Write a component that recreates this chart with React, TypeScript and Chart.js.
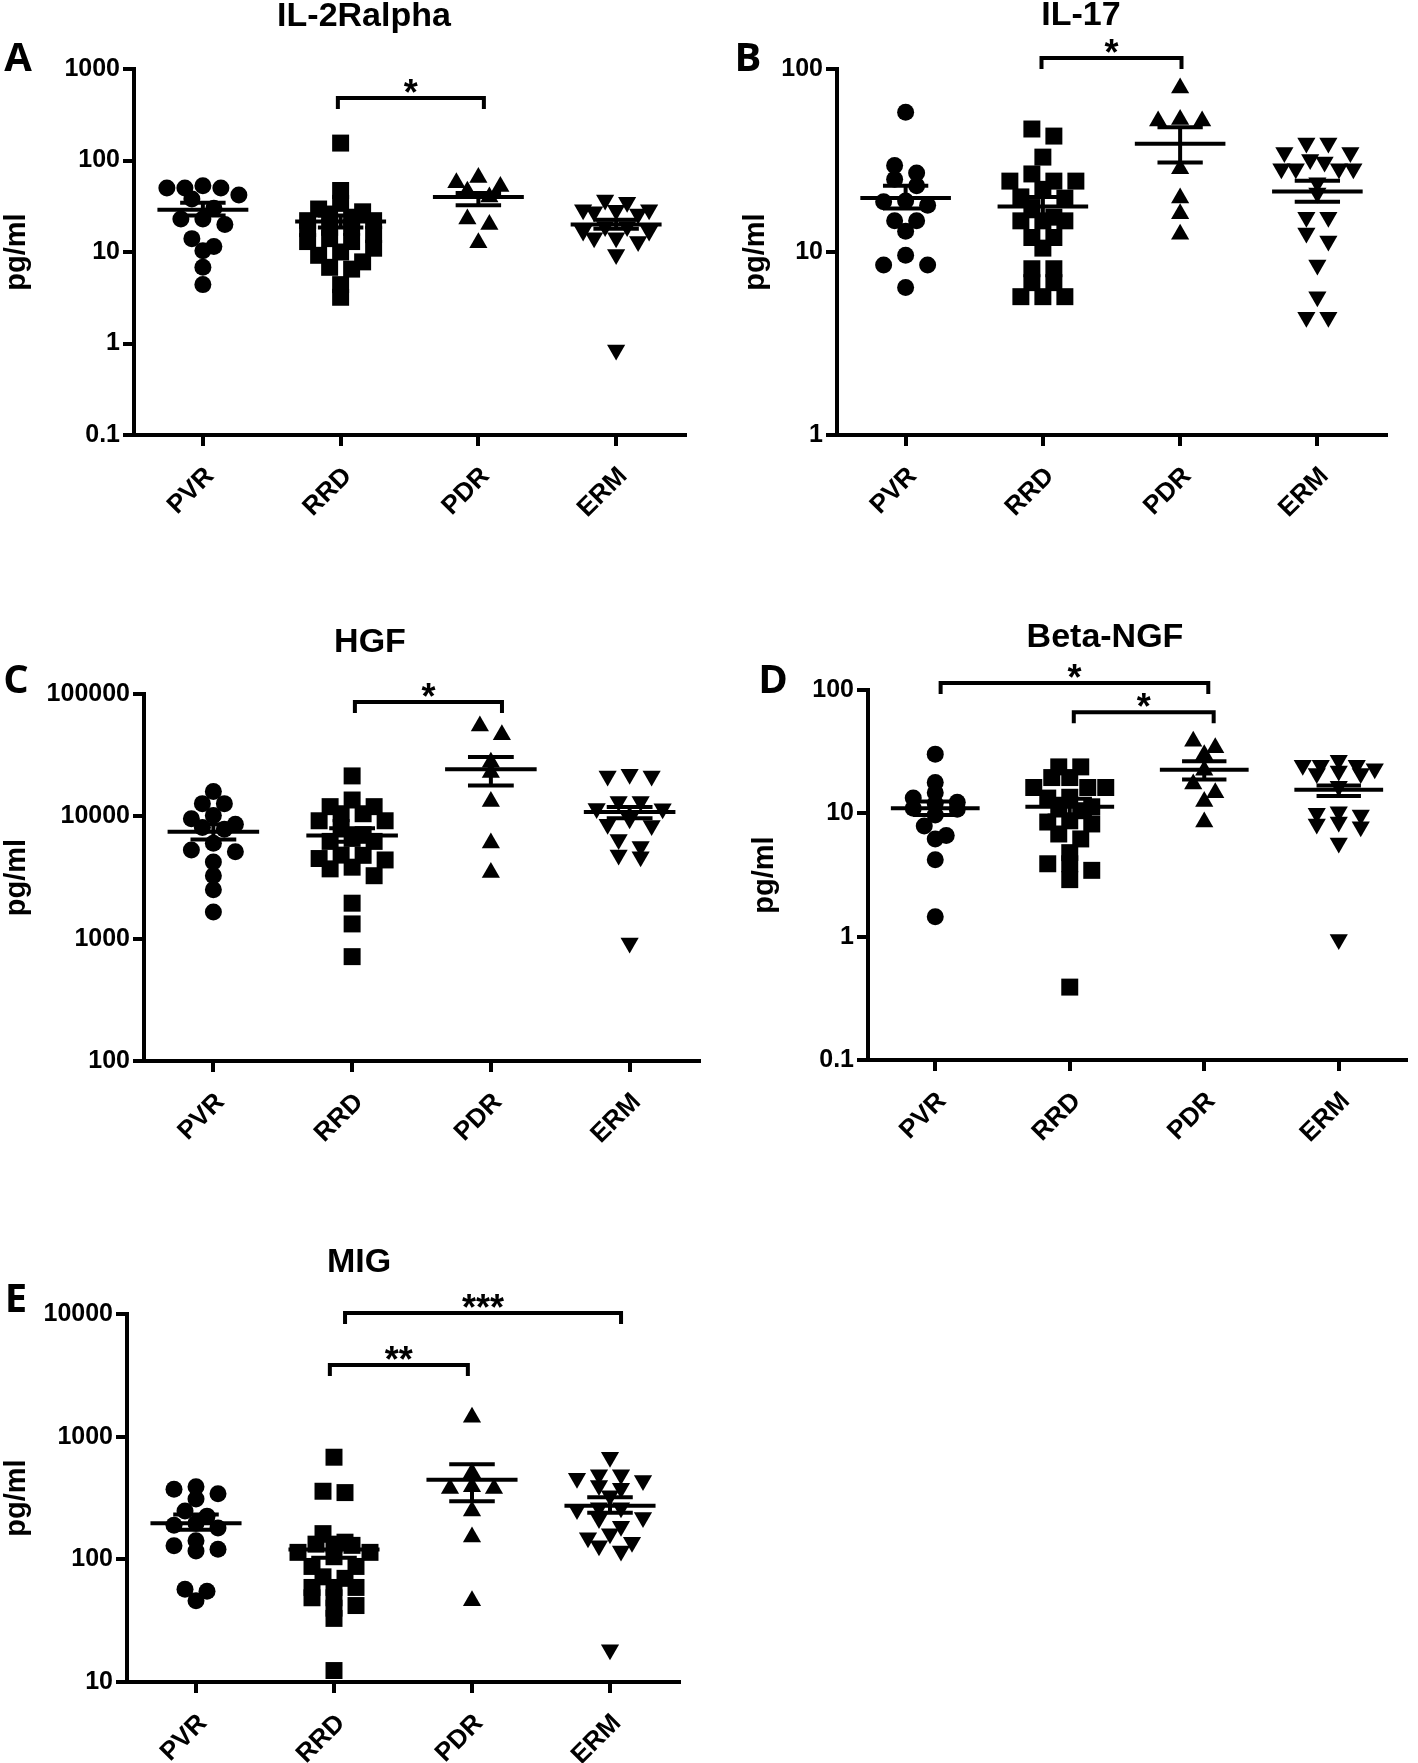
import React, { useEffect, useRef } from 'react';
import { Chart, registerables } from 'chart.js';

Chart.register(...registerables);
Chart.defaults.font.family = "'Liberation Sans', Arial, sans-serif";
Chart.defaults.color = '#000';

const CATEGORIES = ['PVR', 'RRD', 'PDR', 'ERM'];

// ---------- A: IL-2Ralpha ----------
const IL2RA_PVR = [53, 50, 50, 50, 42, 38, 30, 23, 23, 20, 14, 11.5, 10.3, 6.8, 4.4];
const IL2RA_RRD = [155, 47, 34, 29.5, 27.5, 26, 24, 22, 22, 18.6, 18.6, 18, 15.5, 14, 13, 13, 11, 10, 9.2, 7.8, 6.8, 6.5, 4.4, 3.2];
const IL2RA_PDR = [65, 57, 52, 46, 40, 23, 20, 12.6];
const IL2RA_ERM = [37, 35, 29, 29, 28.6, 27.6, 26, 19, 19, 17, 17, 14.3, 14.3, 13, 9.4, 0.85];
const IL2RA_MEAN = [29, 21.5, 40, 20];
const IL2RA_SEM_LOW = [25, 18.5, 32.5, 18];
const IL2RA_SEM_HIGH = [34.5, 25, 44, 22.5];
const IL2RA_TICKS = [0.1, 1, 10, 100, 1000];
const IL2RA_TICK_LABELS = ['0.1', '1', '10', '100', '1000'];
const IL2RA_BRACKETS = [{ from: 0.98, to: 2.04, level: 482, label: '*' }];

// ---------- B: IL-17 ----------
const IL17_PVR = [58, 29.7, 27, 25, 23, 19, 18.8, 18, 14.8, 14.8, 13, 9.6, 8.5, 8.5, 6.4];
const IL17_RRD = [47, 43, 33, 26.7, 24.4, 24.4, 24.4, 22, 20, 19.7, 17.5, 15.5, 14.8, 14.8, 14.8, 12, 12, 10.5, 8.1, 8.1, 6.8, 6.8, 5.7, 5.7, 5.7];
const IL17_PDR = [78.8, 53, 52, 52, 28.5, 19.7, 16.2, 12.5];
const IL17_ERM = [39.4, 39.4, 35, 35, 32, 31, 28.5, 28.5, 28.5, 28.5, 23.9, 21, 15.5, 15.5, 12.7, 11.5, 8.5, 5.7, 4.4, 4.4];
const IL17_MEAN = [19.7, 17.7, 39, 21.4];
const IL17_SEM_LOW = [17.3, 15.7, 30.8, 18.8];
const IL17_SEM_HIGH = [23, 20, 48, 24.5];
const IL17_TICKS = [1, 10, 100];
const IL17_TICK_LABELS = ['1', '10', '100'];
const IL17_BRACKETS = [{ from: 0.99, to: 2.01, level: 115, label: '*' }];

// ---------- C: HGF ----------
const HGF_PVR = [15960, 12700, 12700, 10150, 9560, 8630, 8100, 7830, 6030, 5310, 5130, 4240, 3270, 2510, 1650];
const HGF_RRD = [21400, 13600, 12000, 12000, 10500, 10500, 9200, 9200, 8100, 7080, 6600, 6240, 6240, 4820, 4800, 4520, 4400, 3840, 3720, 3270, 1950, 1320, 713];
const HGF_PDR = [54700, 46500, 27700, 22800, 13200, 6040, 3480];
const HGF_ERM = [22100, 21400, 21400, 13200, 13200, 11600, 11560, 9560, 8630, 8400, 6460, 5660, 4820, 4680, 923];
const HGF_MEAN = [7480, 6970, 24300, 10830];
const HGF_SEM_LOW = [6460, 6200, 17900, 9640];
const HGF_SEM_HIGH = [8630, 8000, 30600, 11940];
const HGF_TICKS = [100, 1000, 10000, 100000];
const HGF_TICK_LABELS = ['100', '1000', '10000', '100000'];
const HGF_BRACKETS = [{ from: 1.02, to: 2.08, level: 86000, label: '*' }];

// ---------- D: Beta-NGF ----------
const NGF_PVR = [30.2, 17.8, 14.7, 13.3, 12.3, 12, 11, 10.8, 9.7, 7.9, 6.6, 6.2, 4.2, 1.45];
const NGF_RRD = [23.8, 23.8, 19.5, 19.5, 16.2, 16.2, 16.2, 13.5, 13.3, 11.3, 11, 10.5, 8.7, 8.5, 8.2, 6.8, 6.2, 4.8, 3.9, 3.9, 3.45, 2.9, 0.39];
const NGF_PDR = [38.5, 34, 29.8, 22.4, 17.3, 14.7, 12.5, 8.5];
const NGF_ERM = [27, 24.5, 24.5, 24.5, 23, 22, 21, 21, 16.6, 10.3, 10, 9.7, 8.5, 8.2, 7.8, 5.75, 0.95];
const NGF_MEAN = [11, 11.3, 22.6, 15.5];
const NGF_SEM_LOW = [9.7, 9.6, 18.8, 13.8];
const NGF_SEM_HIGH = [12.5, 13.1, 26.5, 16.8];
const NGF_TICKS = [0.1, 1, 10, 100];
const NGF_TICK_LABELS = ['0.1', '1', '10', '100'];
const NGF_BRACKETS = [
  { from: 0.04, to: 2.03, level: 114, label: '*' },
  { from: 1.03, to: 2.07, level: 66, label: '*' },
];

// ---------- E: MIG ----------
const MIG_PVR = [391, 372, 343, 311, 248, 225, 197, 190, 180, 142, 129, 121, 117, 57, 55, 46];
const MIG_RRD = [680, 359, 350, 162, 138, 133, 133, 130, 114, 114, 105, 87.5, 87.5, 72, 70, 59, 59, 59, 48.6, 48.6, 42, 40, 33, 12.4];
const MIG_PDR = [1437, 507, 390, 378, 378, 248, 152, 46];
const MIG_ERM = [680, 490, 490, 458, 440, 400, 380, 330, 263, 263, 255, 219, 215, 186, 162, 150, 138, 129, 117, 18.3];
const MIG_MEAN = [197, 120, 445, 274];
const MIG_SEM_LOW = [174, 103, 297, 240];
const MIG_SEM_HIGH = [232, 142, 597, 321];
const MIG_TICKS = [10, 100, 1000, 10000];
const MIG_TICK_LABELS = ['10', '100', '1000', '10000'];
const MIG_BRACKETS = [
  { from: 1.08, to: 3.08, level: 10200, label: '***' },
  { from: 0.97, to: 1.97, level: 3840, label: '**' },
];

type Bracket = { from: number; to: number; level: number; label: string };
type Panel = {
  title: string;
  letter: string;
  ticks: number[];
  tickLabels: string[];
  groups: number[][];
  mean: number[];
  semLow: number[];
  semHigh: number[];
  brackets: Bracket[];
};

const PANELS: Panel[] = [
  { title: 'IL-2Ralpha', letter: 'A', ticks: IL2RA_TICKS, tickLabels: IL2RA_TICK_LABELS, groups: [IL2RA_PVR, IL2RA_RRD, IL2RA_PDR, IL2RA_ERM], mean: IL2RA_MEAN, semLow: IL2RA_SEM_LOW, semHigh: IL2RA_SEM_HIGH, brackets: IL2RA_BRACKETS },
  { title: 'IL-17', letter: 'B', ticks: IL17_TICKS, tickLabels: IL17_TICK_LABELS, groups: [IL17_PVR, IL17_RRD, IL17_PDR, IL17_ERM], mean: IL17_MEAN, semLow: IL17_SEM_LOW, semHigh: IL17_SEM_HIGH, brackets: IL17_BRACKETS },
  { title: 'HGF', letter: 'C', ticks: HGF_TICKS, tickLabels: HGF_TICK_LABELS, groups: [HGF_PVR, HGF_RRD, HGF_PDR, HGF_ERM], mean: HGF_MEAN, semLow: HGF_SEM_LOW, semHigh: HGF_SEM_HIGH, brackets: HGF_BRACKETS },
  { title: 'Beta-NGF', letter: 'D', ticks: NGF_TICKS, tickLabels: NGF_TICK_LABELS, groups: [NGF_PVR, NGF_RRD, NGF_PDR, NGF_ERM], mean: NGF_MEAN, semLow: NGF_SEM_LOW, semHigh: NGF_SEM_HIGH, brackets: NGF_BRACKETS },
  { title: 'MIG', letter: 'E', ticks: MIG_TICKS, tickLabels: MIG_TICK_LABELS, groups: [MIG_PVR, MIG_RRD, MIG_PDR, MIG_ERM], mean: MIG_MEAN, semLow: MIG_SEM_LOW, semHigh: MIG_SEM_HIGH, brackets: MIG_BRACKETS },
];

// ---------- layout / style ----------
type Layout = {
  left: number; top: number; width: number; height: number;
  yAxisWidth: number; padTop: number; padRight: number; xAxisHeight: number; yTitlePad: number;
  titleX: number; titleBaseline: number; letterX: number; letterBaseline: number;
};
const LAYOUTS: Layout[] = [
  { left: 0, top: 0, width: 700, height: 540, yAxisWidth: 134, padTop: 69, padRight: 15, xAxisHeight: 105, yTitlePad: 0, titleX: 364, titleBaseline: 26, letterX: 18, letterBaseline: 71 },
  { left: 725, top: 0, width: 693, height: 540, yAxisWidth: 112, padTop: 69, padRight: 32, xAxisHeight: 105, yTitlePad: 14, titleX: 1081, titleBaseline: 25, letterX: 748, letterBaseline: 71 },
  { left: 0, top: 600, width: 720, height: 600, yAxisWidth: 144, padTop: 94, padRight: 21, xAxisHeight: 139, yTitlePad: 0, titleX: 370, titleBaseline: 652, letterX: 16, letterBaseline: 693 },
  { left: 748, top: 600, width: 670, height: 600, yAxisWidth: 120, padTop: 90, padRight: 0, xAxisHeight: 140, yTitlePad: 0, titleX: 1105, titleBaseline: 647, letterX: 773, letterBaseline: 693 },
  { left: 0, top: 1220, width: 700, height: 543, yAxisWidth: 127, padTop: 94, padRight: 21, xAxisHeight: 81, yTitlePad: 0, titleX: 359, titleBaseline: 1272, letterX: 16, letterBaseline: 1312 },
];

const MARKERS = [
  { pointStyle: 'circle', radius: 8.5, rotation: 0 },
  { pointStyle: 'rect', radius: 12, rotation: 0 },
  { pointStyle: 'triangle', radius: 10.5, rotation: 0 },
  { pointStyle: 'triangle', radius: 10.5, rotation: 180 },
];

const LINE_W = 4;
const MEAN_HALF = 0.33;
const CAP_HALF = 0.165;
const LEG = 11;
const SWARM_ROW = 10;
const SWARM_STEP = 22;
const SWARM_MAX_HALF = 36;

function swarmOffsets(py: number[]): number[] {
  const order = py.map((_, i) => i).sort((a, b) => py[a] - py[b]);
  const off = new Array(py.length).fill(0);
  let row: number[] = [];
  let start = -Infinity;
  const place = () => {
    const n = row.length;
    if (!n) return;
    const sp = n > 1 ? Math.min(SWARM_STEP, (2 * SWARM_MAX_HALF) / (n - 1)) : 0;
    const slots = row.map((_, k) => (k - (n - 1) / 2) * sp);
    slots.sort((a, b) => Math.abs(a) - Math.abs(b) || a - b);
    row.forEach((idx, k) => { off[idx] = slots[k]; });
  };
  for (const i of order) {
    if (py[i] - start >= SWARM_ROW) { place(); row = []; start = py[i]; }
    row.push(i);
  }
  place();
  return off;
}

function makeOverlay(panel: Panel) {
  return {
    id: 'overlay',
    afterDatasetsDraw(chart: any) {
      const xs = chart.scales.x;
      const ys = chart.scales.y;
      const ctx: CanvasRenderingContext2D = chart.ctx;
      const seg = (x1: number, y1: number, x2: number, y2: number) => {
        ctx.beginPath(); ctx.moveTo(x1, y1); ctx.lineTo(x2, y2); ctx.stroke();
      };
      ctx.save();
      ctx.strokeStyle = '#000';
      ctx.fillStyle = '#000';
      ctx.lineWidth = LINE_W;
      ctx.lineCap = 'butt';
      ctx.lineJoin = 'miter';
      panel.mean.forEach((m, i) => {
        const ym = ys.getPixelForValue(m);
        seg(xs.getPixelForValue(i - MEAN_HALF), ym, xs.getPixelForValue(i + MEAN_HALF), ym);
        const yl = ys.getPixelForValue(panel.semLow[i]);
        const yh = ys.getPixelForValue(panel.semHigh[i]);
        const xc = xs.getPixelForValue(i);
        seg(xc, yl, xc, yh);
        seg(xs.getPixelForValue(i - CAP_HALF), yl, xs.getPixelForValue(i + CAP_HALF), yl);
        seg(xs.getPixelForValue(i - CAP_HALF), yh, xs.getPixelForValue(i + CAP_HALF), yh);
      });
      ctx.font = "bold 36px 'Liberation Sans', Arial, sans-serif";
      ctx.textAlign = 'center';
      ctx.textBaseline = 'alphabetic';
      panel.brackets.forEach((b) => {
        const x1 = xs.getPixelForValue(b.from);
        const x2 = xs.getPixelForValue(b.to);
        const y = ys.getPixelForValue(b.level);
        ctx.beginPath();
        ctx.moveTo(x1, y + LEG);
        ctx.lineTo(x1, y);
        ctx.lineTo(x2, y);
        ctx.lineTo(x2, y + LEG);
        ctx.stroke();
        ctx.fillText(b.label, (x1 + x2) / 2, y + 7);
      });
      ctx.restore();
    },
  };
}

function PanelChart({ panel, layout }: { panel: Panel; layout: Layout }) {
  const ref = useRef<HTMLCanvasElement>(null);
  useEffect(() => {
    if (!ref.current) return;
    const datasets = panel.groups.map((vals, gi) => ({
      data: vals.map((v) => ({ x: gi, y: v })),
      pointStyle: MARKERS[gi].pointStyle as any,
      pointRadius: MARKERS[gi].radius,
      pointRotation: MARKERS[gi].rotation,
      pointBackgroundColor: '#000',
      pointBorderColor: '#000',
      pointBorderWidth: 0,
      showLine: false,
      clip: false as any,
    }));
    const chart = new Chart(ref.current, {
      type: 'scatter',
      data: { datasets },
      options: {
        animation: false,
        responsive: false,
        maintainAspectRatio: false,
        devicePixelRatio: 1,
        events: [],
        layout: { padding: { top: layout.padTop, right: layout.padRight, left: 0, bottom: 0 } },
        plugins: { legend: { display: false }, tooltip: { enabled: false }, title: { display: false } },
        scales: {
          x: {
            type: 'linear',
            min: -0.5,
            max: 3.5,
            afterBuildTicks: (s: any) => { s.ticks = CATEGORIES.map((_, i) => ({ value: i })); },
            afterFit: (s: any) => { s.height = layout.xAxisHeight; },
            ticks: {
              callback: (v: any) => CATEGORIES[Math.round(Number(v))],
              minRotation: 45,
              maxRotation: 45,
              autoSkip: false,
              padding: 15,
              labelOffset: 7,
              color: '#000',
              font: { size: 26, weight: 'bold' },
            },
            grid: { drawOnChartArea: false, drawTicks: true, tickLength: 11, lineWidth: LINE_W, tickWidth: LINE_W, tickColor: '#000', color: '#000' },
            border: { display: true, color: '#000', width: LINE_W },
          },
          y: {
            type: 'logarithmic',
            min: panel.ticks[0],
            max: panel.ticks[panel.ticks.length - 1],
            afterBuildTicks: (s: any) => { s.ticks = panel.ticks.map((v) => ({ value: v })); },
            afterFit: (s: any) => { s.width = layout.yAxisWidth; },
            ticks: {
              callback: (v: any) => {
                const k = panel.ticks.findIndex((t) => Math.abs(t - Number(v)) < t * 1e-6);
                return k >= 0 ? panel.tickLabels[k] : '';
              },
              autoSkip: false,
              padding: 3,
              color: '#000',
              font: { size: 25, weight: 'bold' },
            },
            grid: { drawOnChartArea: false, drawTicks: true, tickLength: 11, lineWidth: LINE_W, tickWidth: LINE_W, tickColor: '#000', color: '#000' },
            border: { display: true, color: '#000', width: LINE_W },
            title: {
              display: true,
              text: 'pg/ml',
              color: '#000',
              font: { size: 29, weight: 'bold' },
              padding: { top: layout.yTitlePad, bottom: 0 },
            },
          },
        },
      } as any,
      plugins: [makeOverlay(panel)],
    });
    // beeswarm spread computed from the y scale
    const xs: any = chart.scales.x;
    const ys: any = chart.scales.y;
    const unit = xs.getPixelForValue(1) - xs.getPixelForValue(0);
    panel.groups.forEach((vals, gi) => {
      const off = swarmOffsets(vals.map((v) => ys.getPixelForValue(v)));
      (chart.data.datasets[gi] as any).data = vals.map((v, k) => ({ x: gi + off[k] / unit, y: v }));
    });
    chart.update('none');
    return () => chart.destroy();
  }, [panel, layout]);

  const titleFont = "'Liberation Sans', Arial, sans-serif";
  return (
    <>
      <canvas
        ref={ref}
        width={layout.width}
        height={layout.height}
        style={{ position: 'absolute', left: layout.left, top: layout.top, width: layout.width, height: layout.height }}
      />
      <div
        style={{
          position: 'absolute', left: layout.titleX - 250, width: 500, top: layout.titleBaseline - 28.8,
          textAlign: 'center', fontFamily: titleFont, fontWeight: 'bold', fontSize: 34, lineHeight: '34px',
          color: '#000', whiteSpace: 'nowrap',
        }}
      >
        {panel.title}
      </div>
      <div
        style={{
          position: 'absolute', left: layout.letterX - 30, width: 60, top: layout.letterBaseline - 35.5,
          textAlign: 'center', fontFamily: "'Open Sans', 'Noto Sans', sans-serif", fontWeight: 700, fontSize: 40,
          lineHeight: '40px', color: '#000',
        }}
      >
        {panel.letter}
      </div>
    </>
  );
}

export default function App() {
  return (
    <div style={{ position: 'absolute', left: 0, top: 0, width: 1418, height: 1763, background: '#fff', overflow: 'hidden' }}>
      {PANELS.map((p, i) => (
        <PanelChart key={p.letter} panel={p} layout={LAYOUTS[i]} />
      ))}
    </div>
  );
}
